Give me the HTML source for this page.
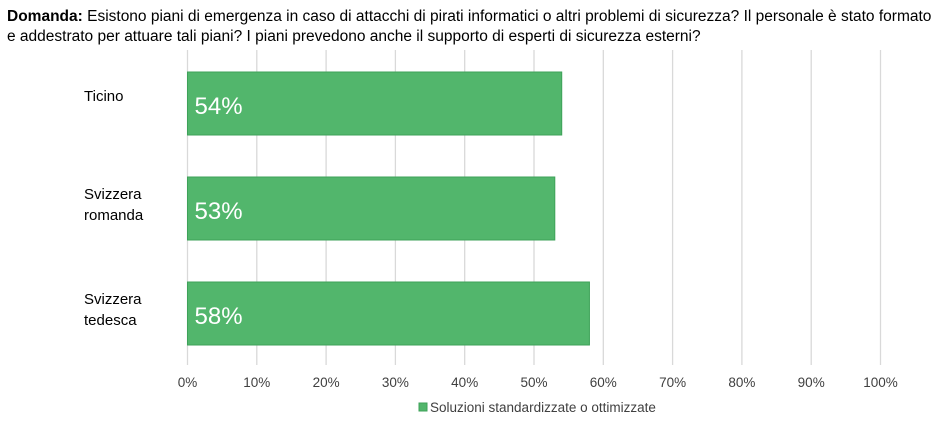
<!DOCTYPE html>
<html><head><meta charset="utf-8"><style>
body{margin:0;background:#fff;width:936px;height:426px;overflow:hidden;font-family:"Liberation Sans",Arial,sans-serif}
#t{position:absolute;left:7px;top:7px;font-size:15.5px;line-height:20px;color:#000;width:925px}
</style></head><body>
<div id="t"><b>Domanda:</b> Esistono piani di emergenza in caso di attacchi di pirati informatici o altri problemi di sicurezza? Il personale è stato formato e addestrato per attuare tali piani? I piani prevedono anche il supporto di esperti di sicurezza esterni?</div>
<svg id="c" width="936" height="426" style="position:absolute;left:0;top:0"></svg>
<script>
const categories=[["Ticino"],["Svizzera","romanda"],["Svizzera","tedesca"]];
const values=[54,53,58];
const ticks=[0,10,20,30,40,50,60,70,80,90,100];
const legendLabel="Soluzioni standardizzate o ottimizzate";
const svg=document.getElementById('c');
const NS="http://www.w3.org/2000/svg";
const x=v=>187.5+v*6.93;
const bandTop=50,bandH=105;
const y=i=>bandTop+i*bandH;
function mk(t,a){const e=document.createElementNS(NS,t);for(const k in a)e.setAttribute(k,a[k]);svg.appendChild(e);return e;}
ticks.forEach(t=>{
 const g=mk('line',{x1:x(t),x2:x(t),y1:50,y2:365,stroke:'#d9d9d9','stroke-width':1.3});
 
 
 const l=mk('text',{x:x(t),y:387,'text-anchor':'middle','font-size':13.5,fill:'#404040'});
 l.textContent=t+'%';
 
 
});
values.forEach((v,i)=>{
 const r=mk('rect',{x:x(0),y:y(i)+22,width:x(v)-x(0),height:63,fill:'#52b66c',stroke:'#3ea259','stroke-width':1});
 
 
 const vl=mk('text',{x:x(0)+7,y:y(i)+64,'font-size':24,fill:'#fff'});
 vl.textContent=v+'%';
 
 
 const lines=categories[i];
 lines.forEach((s,j)=>{
  const c=mk('text',{x:84,y:y(i)+(lines.length==1?51:44)+j*21,'font-size':15,fill:'#000'});
  c.textContent=s;
  
  
 });
});
const sq=mk('rect',{x:419,y:403,width:8,height:8,fill:'#52b66c',stroke:'#3ea259'});


const lt=mk('text',{x:430,y:412,'font-size':13.5,fill:'#404040'});
lt.textContent=legendLabel;


</script>
</body></html>
